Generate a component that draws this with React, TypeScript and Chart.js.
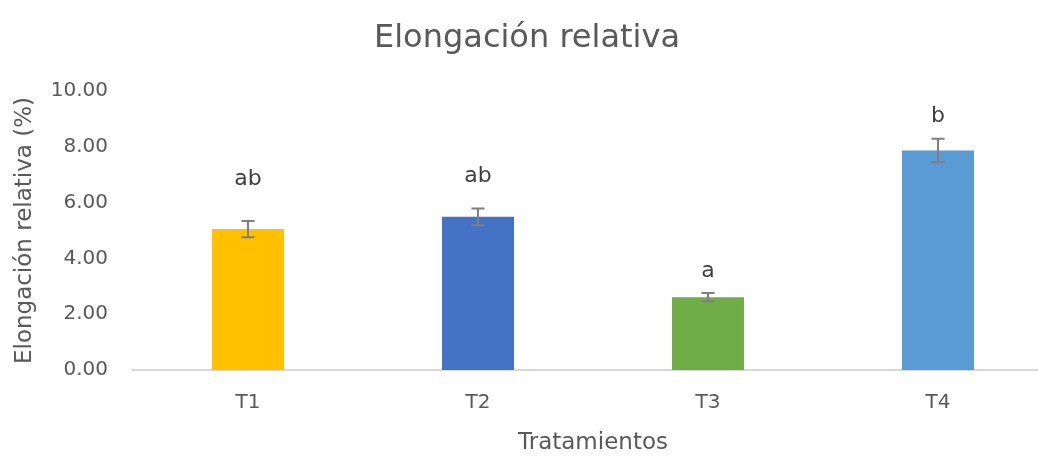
import React, { useEffect, useRef } from "react";
import { Chart, registerables } from "chart.js";

Chart.register(...registerables);

const categories = ["T1", "T2", "T3", "T4"];
const values = [5.05, 5.49, 2.61, 7.87];
const errors = [0.29, 0.3, 0.15, 0.42];
const letters = ["ab", "ab", "a", "b"];
const letterPos = [6.63, 6.73, 3.34, 8.88];
const colors = ["#FFC000", "#4472C4", "#70AD47", "#5B9BD5"];
const yTicks = [0, 2, 4, 6, 8, 10];

const FONT = "'DejaVu Sans', sans-serif";
const TEXT = "#595959";

const overlayPlugin = {
  id: "overlay",
  afterDatasetsDraw(chart: any) {
    const { ctx, scales } = chart;
    const x = scales.x;
    const y = scales.y;
    ctx.save();
    ctx.strokeStyle = "#7F7F7F";
    ctx.lineWidth = 2;
    values.forEach((v, i) => {
      const cx = x.getPixelForValue(i);
      const top = y.getPixelForValue(v + errors[i]);
      const bot = y.getPixelForValue(v - errors[i]);
      ctx.beginPath();
      ctx.moveTo(cx, top);
      ctx.lineTo(cx, bot);
      ctx.moveTo(cx - 6.5, top);
      ctx.lineTo(cx + 6.5, top);
      ctx.moveTo(cx - 6.5, bot);
      ctx.lineTo(cx + 6.5, bot);
      ctx.stroke();
    });
    ctx.fillStyle = "#404040";
    ctx.font = `22px ${FONT}`;
    ctx.textAlign = "center";
    ctx.textBaseline = "alphabetic";
    letters.forEach((t, i) => {
      ctx.fillText(t, x.getPixelForValue(i), y.getPixelForValue(letterPos[i]));
    });
    ctx.fillStyle = TEXT;
    ctx.font = `32px ${FONT}`;
    ctx.fillText("Elongación relativa", 527, 47);
    ctx.restore();
  },
};

export default function App() {
  const ref = useRef<HTMLCanvasElement>(null);
  useEffect(() => {
    if (!ref.current) return;
    const chart = new Chart(ref.current, {
      type: "bar",
      data: {
        labels: categories,
        datasets: [
          {
            data: values,
            backgroundColor: colors,
            categoryPercentage: 1,
            barPercentage: 0.313,
          },
        ],
      },
      options: {
        responsive: false,
        animation: false,
        layout: { padding: { left: 0, right: 7, top: 91, bottom: 0 } },
        plugins: { legend: { display: false }, tooltip: { enabled: false }, title: { display: false } },
        scales: {
          x: {
            grid: { display: false, drawTicks: false },
            border: { display: true, color: "#D9D9D9", width: 2 },
            ticks: { color: TEXT, font: { family: FONT, size: 20 }, padding: 21 },
            title: {
              display: true,
              text: "Tratamientos",
              color: TEXT,
              font: { family: FONT, size: 23 },
              padding: { top: 0, bottom: 0 },
            },
            afterFit: (s: any) => {
              s.height = 87;
            },
          },
          y: {
            min: 0,
            max: 10,
            grid: { display: false, drawTicks: false },
            border: { display: false },
            afterBuildTicks: (s: any) => {
              s.ticks = yTicks.map((v) => ({ value: v }));
            },
            ticks: {
              color: TEXT,
              font: { family: FONT, size: 20 },
              padding: 25,
              callback: (v: any) => Number(v).toFixed(2),
            },
            title: {
              display: true,
              text: "Elongación relativa (%)",
              color: TEXT,
              font: { family: FONT, size: 23 },
              padding: { top: 11, bottom: 0 },
            },
            afterFit: (s: any) => {
              s.width = 133;
            },
          },
        },
      },
      plugins: [overlayPlugin],
    });
    return () => chart.destroy();
  }, []);
  return (
    <div style={{ position: "fixed", left: 0, top: 0, width: 1038, height: 457, overflow: "hidden", background: "#fff" }}>
      <canvas ref={ref} width={1060} height={457} style={{ display: "block" }} />
    </div>
  );
}
